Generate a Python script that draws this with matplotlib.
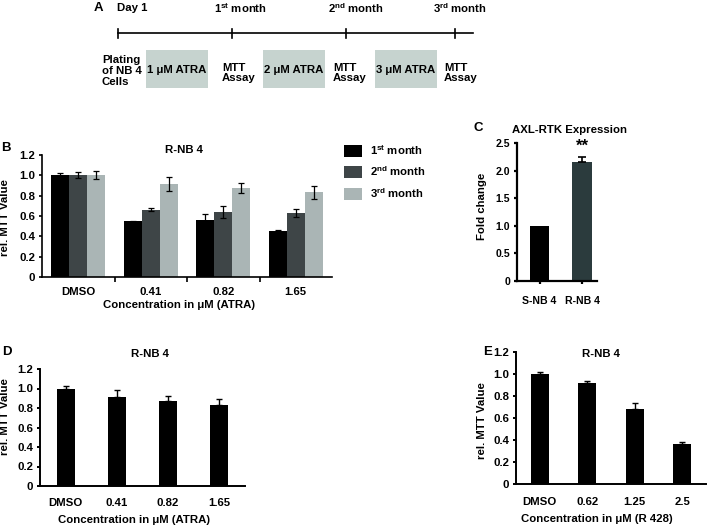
import numpy as np
import matplotlib
matplotlib.use('Agg')
import matplotlib.pyplot as plt
from matplotlib.patches import Patch, Rectangle

FS = 8.2
plt.rcParams['font.family'] = ['Liberation Sans', 'DejaVu Sans']
plt.rcParams['font.weight'] = 'bold'
plt.rcParams['font.size'] = FS
plt.rcParams['axes.titlesize'] = FS
plt.rcParams['axes.labelweight'] = 'bold'
plt.rcParams['axes.titleweight'] = 'bold'
plt.rcParams['mathtext.fontset'] = 'custom'
plt.rcParams['mathtext.rm'] = 'Liberation Sans:bold'
plt.rcParams['mathtext.it'] = 'Liberation Sans:bold'
plt.rcParams['mathtext.bf'] = 'Liberation Sans:bold'

# ---- data ----
month_labels = [r'1$^{\mathbf{st}}$ month', r'2$^{\mathbf{nd}}$ month', r'3$^{\mathbf{rd}}$ month']
timeline_labels = ['Day 1'] + month_labels
treatments = ['1 μM ATRA', '2 μM ATRA', '3 μM ATRA']

atra_conc = ['DMSO', '0.41', '0.82', '1.65']
b_month1 = [1.00, 0.55, 0.56, 0.45]
b_err1 = [0.025, 0.005, 0.063, 0.015]
b_month2 = [1.00, 0.66, 0.64, 0.63]
b_err2 = [0.03, 0.015, 0.06, 0.043]
b_month3 = [1.00, 0.915, 0.875, 0.835]
b_err3 = [0.04, 0.07, 0.053, 0.065]

c_lines = ['S-NB 4', 'R-NB 4']
c_fold = [1.0, 2.155]
c_err = [0.0, 0.09]

d_mtt = [0.99, 0.91, 0.87, 0.83]
d_err = [0.04, 0.07, 0.055, 0.06]

r428_conc = ['DMSO', '0.62', '1.25', '2.5']
e_mtt = [1.00, 0.92, 0.68, 0.36]
e_err = [0.018, 0.02, 0.055, 0.025]

mtt_ticks = [0, 0.2, 0.4, 0.6, 0.8, 1.0, 1.2]
fold_ticks = [0, 0.5, 1.0, 1.5, 2.0, 2.5]

colors = ['#000000', '#3e4547', '#aab5b5']
box_color = '#c6d3cf'

W, H = 709, 529
fig = plt.figure(figsize=(W / 100, H / 100), dpi=100)


def rect(l, r, top, bot):
    return [l / W, 1 - bot / H, (r - l) / W, (bot - top) / H]


def tick_fmt(ticks):
    return ['0' if t == 0 else '%.1f' % t for t in ticks]


def up_err(errs):
    # one-sided error bars, nothing drawn where there is no error
    e = np.array(errs, dtype=float)
    lo = np.zeros(len(e))
    lo[e == 0] = np.nan
    e[e == 0] = np.nan
    return [lo, e]


def style_axes(ax, lw=1.2):
    for s in ['top', 'right']:
        ax.spines[s].set_visible(False)
    for s in ['left', 'bottom']:
        ax.spines[s].set_linewidth(lw)
    ax.tick_params(axis='y', direction='out', length=2.5, width=lw, pad=2.5)


# overlay for panel A and free text (pixel coordinates)
ov = fig.add_axes([0, 0, 1, 1])
ov.set_xlim(0, W)
ov.set_ylim(H, 0)
ov.axis('off')

# ---- A: timeline ----
tick_x = [118, 232, 346, 455]
label_x = [117, 214, 328, 433]
ov.plot([118, 473], [33, 33], color='black', lw=1.2)
for x in tick_x:
    ov.plot([x, x], [29, 38], color='black', lw=1.2)
for x, lab in zip(label_x, timeline_labels):
    ov.text(x, 8, lab, ha='left', va='center')
box_l = [146, 263, 375]
for l, lab in zip(box_l, treatments):
    ov.add_patch(Rectangle((l, 50), 62, 38, facecolor=box_color, edgecolor='none'))
    ov.text(l + 31, 70, lab, ha='center', va='center')
ov.text(102, 71, 'Plating\nof NB 4\nCells', ha='left', va='center', linespacing=1.1)
for x in [222, 333, 444]:
    ov.text(x, 73, 'MTT\nAssay', ha='left', va='center', linespacing=1.1)

# panel letters
for lab, x, y in [('A', 98, 8), ('B', 6, 148), ('C', 478, 128), ('D', 7, 352), ('E', 488, 352)]:
    ov.text(x, y, lab, ha='center', va='center', fontsize=9.5)

# ---- B ----
axB = fig.add_axes(rect(42, 332, 155, 277))
xb = np.arange(len(atra_conc))
wb = 0.25
for k, (vals, errs) in enumerate([(b_month1, b_err1), (b_month2, b_err2), (b_month3, b_err3)]):
    axB.bar(xb + (k - 1) * wb, vals, wb, color=colors[k], label=month_labels[k],
            yerr=errs, error_kw=dict(ecolor='black', elinewidth=0.9, capsize=2, capthick=0.9))
axB.set_xlim(-0.5, 3.5)
axB.set_ylim(0, 1.2)
axB.set_yticks(mtt_ticks, tick_fmt(mtt_ticks))
axB.set_xticks(xb, atra_conc)
axB.set_xticks([0.5, 1.5, 2.5], minor=True)
style_axes(axB)
axB.tick_params(axis='x', which='major', length=0, pad=7.5)
axB.tick_params(axis='x', which='minor', length=3.5, width=1.2, direction='out')
axB.set_xlabel('Concentration in μM (ATRA)')
axB.xaxis.set_label_coords(0.472, -0.19)
axB.set_title('R-NB 4', x=0.49, y=1.02, pad=0)
ov.text(5, 218, 'rel. MTT Value', rotation=90, ha='center', va='center')
fig.legend(handles=[Patch(facecolor=c, edgecolor='none') for c in colors], labels=month_labels,
           loc='upper left', bbox_to_anchor=(344 / W, 1 - 143 / H), frameon=False,
           borderpad=0, borderaxespad=0, handlelength=1.55, handleheight=1.25,
           labelspacing=0.65, handletextpad=0.75)

# ---- C ----
axC = fig.add_axes(rect(517, 597, 143, 281))
xc = np.arange(len(c_lines))
axC.bar(xc, c_fold, 0.46, color=['#000000', '#2b3b3d'],
        yerr=up_err(c_err), error_kw=dict(ecolor='black', elinewidth=1.2, capsize=3, capthick=1.2))
axC.set_xlim(-0.53, 1.35)
axC.set_ylim(0, 2.5)
axC.set_yticks(fold_ticks, tick_fmt(fold_ticks))
axC.set_xticks(xc, c_lines)
style_axes(axC, lw=1.6)
axC.tick_params(axis='both', labelsize=7.6)
axC.tick_params(axis='x', length=2.5, width=1.6, pad=8.5)
axC.set_title('AXL-RTK Expression', x=0.66, y=1.07, pad=0)
axC.text(1, c_fold[1] + c_err[1] + 0.06, '**', ha='center', va='bottom', fontsize=12)
ov.text(482, 206, 'Fold change', rotation=90, ha='center', va='center')

# ---- D ----
axD = fig.add_axes(rect(40, 245, 369, 486))
xd = np.arange(len(atra_conc))
axD.bar(xd, d_mtt, 0.35, color='black',
        yerr=up_err(d_err), error_kw=dict(ecolor='black', elinewidth=1.0, capsize=2.2, capthick=1.0))
axD.set_xlim(-0.5, 3.5)
axD.set_ylim(0, 1.2)
axD.set_yticks(mtt_ticks, tick_fmt(mtt_ticks))
axD.set_xticks(xd, atra_conc)
style_axes(axD, lw=1.4)
axD.tick_params(axis='x', length=0, pad=9)
axD.set_xlabel('Concentration in μM (ATRA)')
axD.xaxis.set_label_coords(0.459, -0.25)
axD.set_title('R-NB 4', x=0.537, y=1.1, pad=0)
ov.text(5, 417, 'rel. MTT Value', rotation=90, ha='center', va='center')

# ---- E ----
axE = fig.add_axes(rect(516, 706, 352, 484))
xe = np.arange(len(r428_conc))
axE.bar(xe, e_mtt, 0.38, color='black',
        yerr=up_err(e_err), error_kw=dict(ecolor='black', elinewidth=1.0, capsize=2.2, capthick=1.0))
axE.set_xlim(-0.5, 3.5)
axE.set_ylim(0, 1.2)
axE.set_yticks(mtt_ticks, tick_fmt(mtt_ticks))
axE.set_xticks(xe, r428_conc)
style_axes(axE, lw=1.4)
axE.tick_params(axis='x', length=0, pad=9.5)
axE.set_xlabel('Concentration in μM (R 428)')
axE.xaxis.set_label_coords(0.427, -0.23)
axE.set_title('R-NB 4', x=0.447, y=0.962, pad=0)
ov.text(482, 421, 'rel. MTT Value', rotation=90, ha='center', va='center')

fig.savefig('out.png', dpi=100)
